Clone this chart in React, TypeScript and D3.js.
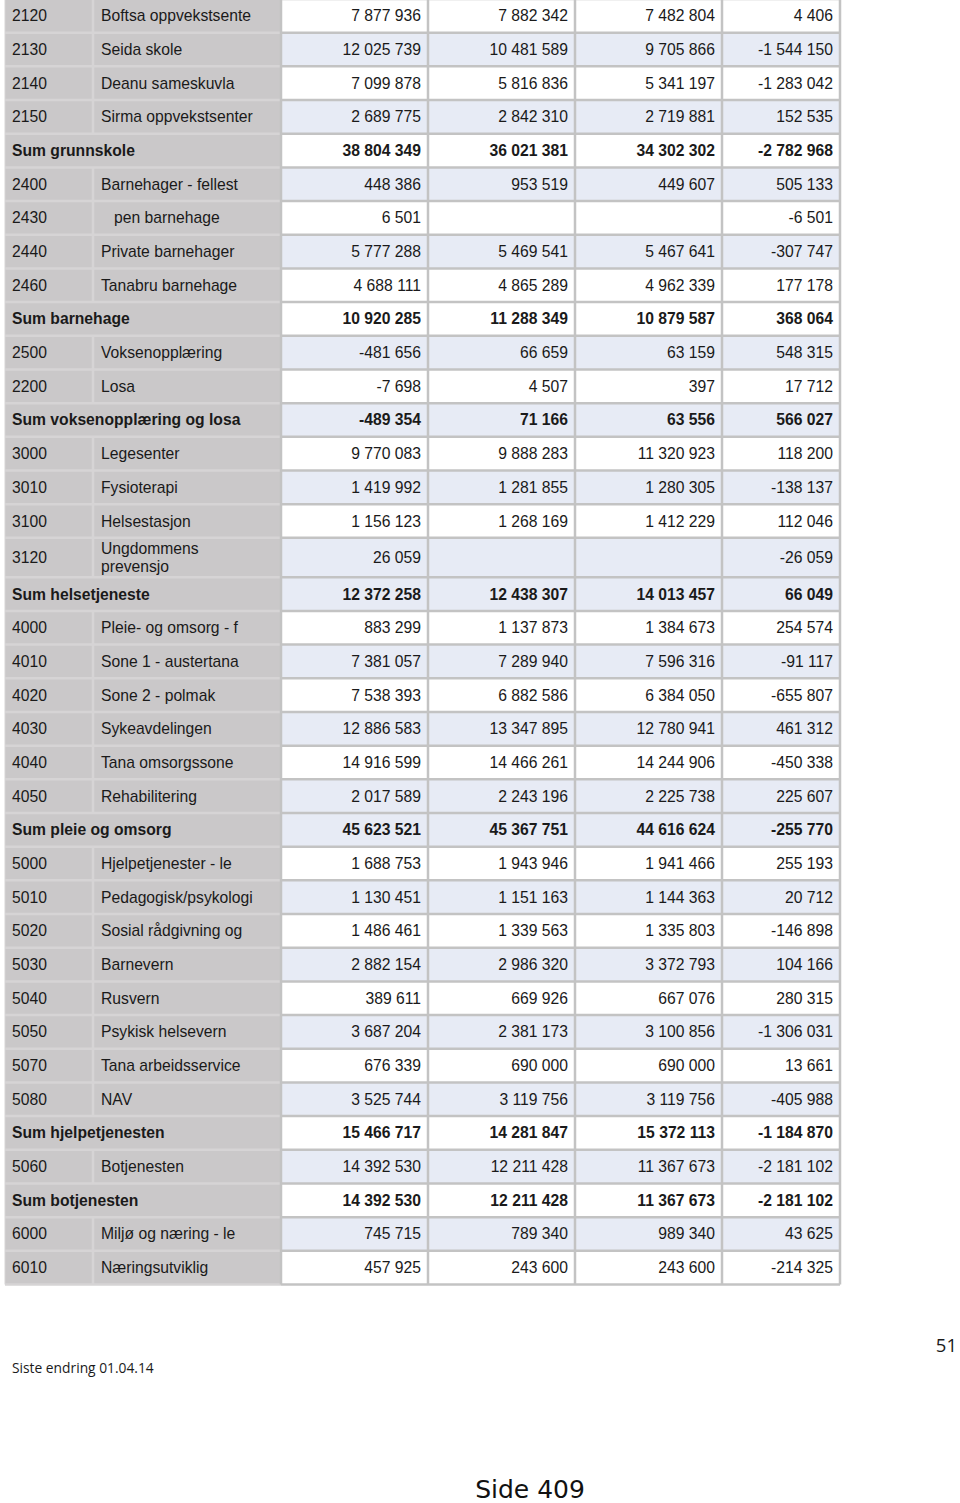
import React from 'react';
import * as d3 from 'd3';

const W = 960;
const H = 1503;

// row kinds: 'item' = code + name, 'sum' = bold subtotal spanning the two grey columns
const codes = [
  '2120', '2130', '2140', '2150', '', '2400', '2430', '2440', '2460', '',
  '2500', '2200', '', '3000', '3010', '3100', '3120', '', '4000', '4010',
  '4020', '4030', '4040', '4050', '', '5000', '5010', '5020', '5030', '5040',
  '5050', '5070', '5080', '', '5060', '', '6000', '6010',
];
const names = [
  'Boftsa oppvekstsente', 'Seida skole', 'Deanu sameskuvla', 'Sirma oppvekstsenter', 'Sum grunnskole',
  'Barnehager - fellest', '   pen barnehage', 'Private barnehager', 'Tanabru barnehage', 'Sum barnehage',
  'Voksenopplæring', 'Losa', 'Sum voksenopplæring og losa', 'Legesenter', 'Fysioterapi',
  'Helsestasjon', 'Ungdommens\nprevensjo', 'Sum helsetjeneste', 'Pleie- og omsorg - f', 'Sone 1 - austertana',
  'Sone 2 - polmak', 'Sykeavdelingen', 'Tana omsorgssone', 'Rehabilitering', 'Sum pleie og omsorg',
  'Hjelpetjenester - le', 'Pedagogisk/psykologi', 'Sosial rådgivning og', 'Barnevern', 'Rusvern',
  'Psykisk helsevern', 'Tana arbeidsservice', 'NAV', 'Sum hjelpetjenesten', 'Botjenesten',
  'Sum botjenesten', 'Miljø og næring - le', 'Næringsutviklig',
];
const col1 = [
  7877936, 12025739, 7099878, 2689775, 38804349, 448386, 6501, 5777288, 4688111, 10920285,
  -481656, -7698, -489354, 9770083, 1419992, 1156123, 26059, 12372258, 883299, 7381057,
  7538393, 12886583, 14916599, 2017589, 45623521, 1688753, 1130451, 1486461, 2882154, 389611,
  3687204, 676339, 3525744, 15466717, 14392530, 14392530, 745715, 457925,
];
const col2 = [
  7882342, 10481589, 5816836, 2842310, 36021381, 953519, null, 5469541, 4865289, 11288349,
  66659, 4507, 71166, 9888283, 1281855, 1268169, null, 12438307, 1137873, 7289940,
  6882586, 13347895, 14466261, 2243196, 45367751, 1943946, 1151163, 1339563, 2986320, 669926,
  2381173, 690000, 3119756, 14281847, 12211428, 12211428, 789340, 243600,
];
const col3 = [
  7482804, 9705866, 5341197, 2719881, 34302302, 449607, null, 5467641, 4962339, 10879587,
  63159, 397, 63556, 11320923, 1280305, 1412229, null, 14013457, 1384673, 7596316,
  6384050, 12780941, 14244906, 2225738, 44616624, 1941466, 1144363, 1335803, 3372793, 667076,
  3100856, 690000, 3119756, 15372113, 11367673, 11367673, 989340, 243600,
];
const col4 = [
  4406, -1544150, -1283042, 152535, -2782968, 505133, -6501, -307747, 177178, 368064,
  548315, 17712, 566027, 118200, -138137, 112046, -26059, 66049, 254574, -91117,
  -655807, 461312, -450338, 225607, -255770, 255193, 20712, -146898, 104166, 280315,
  -1306031, 13661, -405988, -1184870, -2181102, -2181102, 43625, -214325,
];
// light blue banding of the value cells, as in the source page
const banded = [
  0, 1, 0, 1, 0, 1, 0, 1, 0, 0, 1, 0, 1, 0, 1, 0, 1, 1, 0, 1,
  0, 1, 0, 1, 1, 0, 1, 0, 1, 0, 1, 0, 1, 0, 1, 0, 1, 0,
];

const fmt = d3.formatLocale({ decimal: ',', thousands: ' ', grouping: [3], currency: ['', ''], minus: '-' }).format(',d');

const rows = codes.map((code, i) => ({
  code,
  name: names[i],
  sum: code === '',
  lines: names[i].split('\n'),
  values: [col1[i], col2[i], col3[i], col4[i]],
  banded: banded[i] === 1,
}));

const units = rows.map(r => (r.lines.length > 1 ? 1.17 : 1));
const starts = [0, ...Array.from(d3.cumsum(units))];
const y = d3.scaleLinear().domain([0, starts[starts.length - 1]]).range([-1, 1284.5]);

const colKeys = ['code', 'name', 'v0', 'v1', 'v2', 'v3'];
const left = d3.scaleOrdinal<string, number>().domain(colKeys).range([5, 93, 281, 428, 575, 722]);
const right = d3.scaleOrdinal<string, number>().domain(colKeys).range([93, 281, 428, 575, 722, 840]);

const GREY = '#cac8c9';
const GREY_LINE = '#d6d4d5';
const BLUE = '#e7ebf5';
const LINE = '#c3c3c3';
const FONT = '"Liberation Sans", Arial, sans-serif';
const FS = 15.7;

const App = () => (
  <svg width={W} height={H} style={{ position: 'absolute', left: 0, top: 0, background: '#fff' }}>
    <g fontFamily={FONT} fontSize={FS} fill="#1a1a1a">
      {rows.map((r, i) => {
        const y0 = y(starts[i]);
        const y1 = y(starts[i + 1]);
        return (
          <g key={i}>
            <rect x={left('code')} y={y0} width={right('name') - left('code')} height={y1 - y0} fill={GREY} />
            {r.values.map((v, j) => (
              <rect
                key={j}
                x={left('v' + j)}
                y={y0}
                width={right('v' + j) - left('v' + j)}
                height={y1 - y0}
                fill={r.banded ? BLUE : '#fff'}
              />
            ))}
          </g>
        );
      })}
      {/* grid lines */}
      {rows.map((r, i) => {
        const y1 = y(starts[i + 1]);
        return (
          <g key={'l' + i}>
            <line x1={left('code')} x2={right('name')} y1={y1} y2={y1} stroke={GREY_LINE} strokeWidth={2.5} />
            <line x1={left('v0')} x2={right('v3')} y1={y1} y2={y1} stroke={LINE} strokeWidth={2.5} />
            {!r.sum && (
              <line x1={right('code')} x2={right('code')} y1={y(starts[i])} y2={y1} stroke={GREY_LINE} strokeWidth={2.5} />
            )}
          </g>
        );
      })}
      <line x1={left('v0')} x2={right('v3')} y1={y(0)} y2={y(0)} stroke={LINE} strokeWidth={2.5} />
      {['v0', 'v1', 'v2', 'v3'].map(k => (
        <line key={k} x1={left(k)} x2={left(k)} y1={y.range()[0]} y2={y.range()[1]} stroke={LINE} strokeWidth={2.5} />
      ))}
      <line x1={right('v3')} x2={right('v3')} y1={y.range()[0]} y2={y.range()[1]} stroke={LINE} strokeWidth={2.5} />
      <line x1={left('code')} x2={left('code')} y1={y.range()[0]} y2={y.range()[1]} stroke={GREY_LINE} strokeWidth={1} />
      {/* text */}
      {rows.map((r, i) => {
        const y0 = y(starts[i]);
        const y1 = y(starts[i + 1]);
        const cy = (y0 + y1) / 2;
        const fw = r.sum ? 'bold' : 'normal';
        return (
          <g key={'t' + i} fontWeight={fw}>
            {r.sum ? (
              <text x={left('code') + 7} y={cy} dy="0.35em">{r.name}</text>
            ) : (
              <>
                <text x={left('code') + 7} y={cy} dy="0.35em">{r.code}</text>
                {r.lines.map((ln, k) => (
                  <text
                    key={k}
                    x={left('name') + 8}
                    y={cy + (k - (r.lines.length - 1) / 2) * 18.5}
                    dy="0.35em"
                    style={{ whiteSpace: 'pre' }}
                  >
                    {ln}
                  </text>
                ))}
              </>
            )}
            {r.values.map((v, j) =>
              v === null ? null : (
                <text key={j} x={right('v' + j) - 7} y={cy} dy="0.35em" textAnchor="end">
                  {fmt(v)}
                </text>
              )
            )}
          </g>
        );
      })}
    </g>
    <text x={12} y={1373} fontFamily='"Open Sans", sans-serif' fontSize={13.8} fill="#1a1a1a">
      Siste endring 01.04.14
    </text>
    <text x={957} y={1352} textAnchor="end" fontFamily='"Open Sans", sans-serif' fontSize={18.5} fill="#1a1a1a">
      51
    </text>
    <text x={530} y={1498} textAnchor="middle" fontFamily='"DejaVu Sans", Verdana, sans-serif' fontSize={25} fill="#111">
      Side 409
    </text>
  </svg>
);

export default App;
